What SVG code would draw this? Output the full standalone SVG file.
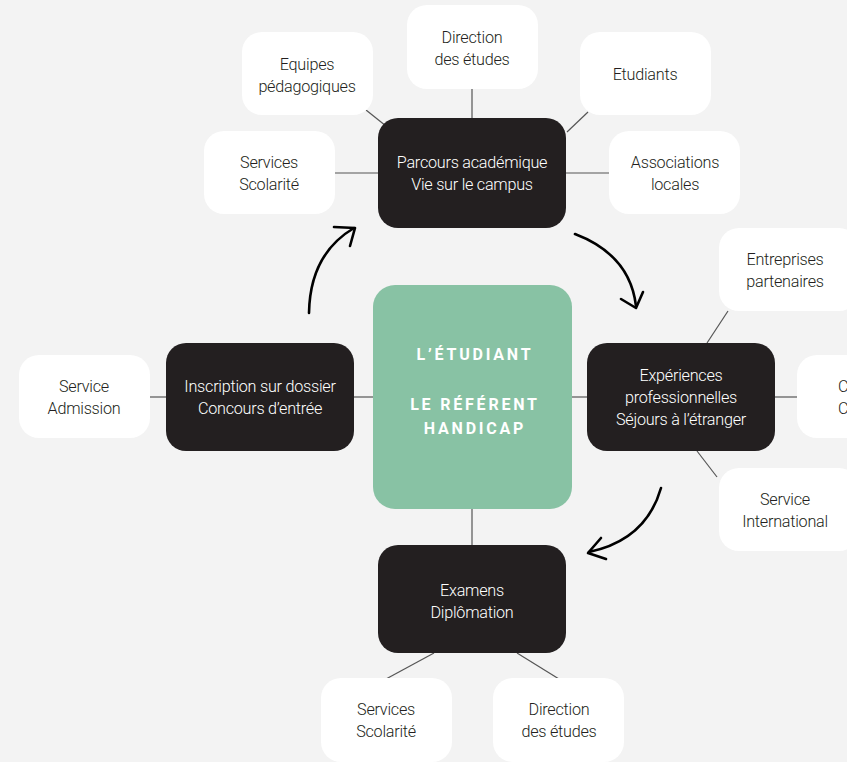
<svg xmlns="http://www.w3.org/2000/svg" width="847" height="762" viewBox="0 0 847 762">
<style>
.w{fill:#ffffff}
.d{fill:#231f20}
.t{font-family:Roboto,"Liberation Sans",sans-serif;font-size:16.2px;font-weight:300;text-anchor:middle;letter-spacing:-0.25px}
.tw{fill:#ffffff}
.tb{fill:#231f20}
.c{stroke:#555555;stroke-width:1.2;fill:none}
.a{stroke:#000000;stroke-width:2.6;fill:none;stroke-linecap:round;stroke-linejoin:round}
.g{font-family:Roboto,"Liberation Sans",sans-serif;font-size:16px;font-weight:700;fill:#ffffff;text-anchor:middle;letter-spacing:2.8px}
</style>
<rect width="847" height="762" fill="#f3f3f3"/>
<g id="connectors">
<line class="c" x1="472" y1="89" x2="472" y2="118"/>
<line class="c" x1="366" y1="110" x2="386" y2="126"/>
<line class="c" x1="588" y1="112" x2="567" y2="132"/>
<line class="c" x1="335" y1="173" x2="378" y2="173"/>
<line class="c" x1="566" y1="173" x2="609" y2="173"/>
<line class="c" x1="150" y1="397" x2="166" y2="397"/>
<line class="c" x1="354" y1="397" x2="373" y2="397"/>
<line class="c" x1="572" y1="397" x2="587" y2="397"/>
<line class="c" x1="775" y1="397" x2="797" y2="397"/>
<line class="c" x1="728" y1="311" x2="707" y2="343"/>
<line class="c" x1="697" y1="451" x2="717" y2="477"/>
<line class="c" x1="472" y1="509" x2="472" y2="545"/>
<line class="c" x1="434" y1="653" x2="386" y2="679"/>
<line class="c" x1="517" y1="653" x2="559" y2="679"/>
<path class="a" d="M309,313 Q310,254 354,228"/>
<path class="a" d="M334,227 L355,228 L350,246"/>
<path class="a" d="M575,234 Q630,255 636,306"/>
<path class="a" d="M621,299 L636,308 L643,292"/>
<path class="a" d="M661,488 Q646,540 589,552"/>
<path class="a" d="M601,538 L588,553 L606,559"/>
</g>
<g id="n-center"><rect x="373" y="285" width="199" height="224" rx="22" fill="#88c2a4"/>
<text class="g" x="475" y="360">L’ÉTUDIANT</text>
<text class="g" x="475" y="410">LE RÉFÉRENT</text>
<text class="g" x="475" y="434">HANDICAP</text></g>
<g id="n-parcours"><rect class="d" x="378" y="118" width="188" height="110" rx="20"/>
<text class="t tw" x="472" y="168">Parcours académique</text><text class="t tw" x="472" y="190">Vie sur le campus</text></g>
<g id="n-inscription"><rect class="d" x="166" y="343" width="188" height="108" rx="20"/>
<text class="t tw" x="260" y="392">Inscription sur dossier</text><text class="t tw" x="260" y="414">Concours d’entrée</text></g>
<g id="n-experiences"><rect class="d" x="587" y="343" width="188" height="108" rx="20"/>
<text class="t tw" x="681" y="381">Expériences</text><text class="t tw" x="681" y="403">professionnelles</text><text class="t tw" x="681" y="425">Séjours à l’étranger</text></g>
<g id="n-examens"><rect class="d" x="378" y="545" width="188" height="108" rx="20"/>
<text class="t tw" x="472" y="596">Examens</text><text class="t tw" x="472" y="618">Diplômation</text></g>
<g id="n-direction-top"><rect class="w" x="407" y="5" width="131" height="84" rx="20"/>
<text class="t tb" x="472" y="43">Direction</text><text class="t tb" x="472" y="65">des études</text></g>
<g id="n-equipes"><rect class="w" x="242" y="32" width="131" height="83" rx="20"/>
<text class="t tb" x="307" y="70">Equipes</text><text class="t tb" x="307" y="92">pédagogiques</text></g>
<g id="n-etudiants"><rect class="w" x="580" y="32" width="131" height="83" rx="20"/>
<text class="t tb" x="645" y="80">Etudiants</text></g>
<g id="n-scolarite-top"><rect class="w" x="204" y="131" width="131" height="83" rx="20"/>
<text class="t tb" x="269" y="168">Services</text><text class="t tb" x="269" y="190">Scolarité</text></g>
<g id="n-associations"><rect class="w" x="609" y="131" width="131" height="83" rx="20"/>
<text class="t tb" x="675" y="168">Associations</text><text class="t tb" x="675" y="190">locales</text></g>
<g id="n-admission"><rect class="w" x="19" y="355" width="131" height="83" rx="20"/>
<text class="t tb" x="84" y="392">Service</text><text class="t tb" x="84" y="414">Admission</text></g>
<g id="n-entreprises"><rect class="w" x="719" y="228" width="140" height="83" rx="20"/>
<text class="t tb" x="785" y="265">Entreprises</text><text class="t tb" x="785" y="287">partenaires</text></g>
<g id="n-c"><rect class="w" x="797" y="355" width="80" height="83" rx="20"/>
<text class="t tb" x="838" y="392" style="text-anchor:start">C</text><text class="t tb" x="838" y="414" style="text-anchor:start">C</text></g>
<g id="n-international"><rect class="w" x="719" y="468" width="140" height="83" rx="20"/>
<text class="t tb" x="785" y="505">Service</text><text class="t tb" x="785" y="527">International</text></g>
<g id="n-scolarite-bottom"><rect class="w" x="321" y="678" width="131" height="84" rx="20"/>
<text class="t tb" x="386" y="715">Services</text><text class="t tb" x="386" y="737">Scolarité</text></g>
<g id="n-direction-bottom"><rect class="w" x="493" y="678" width="131" height="84" rx="20"/>
<text class="t tb" x="559" y="715">Direction</text><text class="t tb" x="559" y="737">des études</text></g>
</svg>
